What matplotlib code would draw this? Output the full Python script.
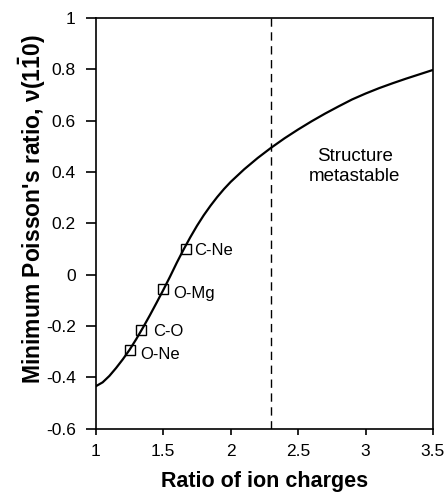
import numpy as np
import matplotlib
matplotlib.use('Agg')
import matplotlib.pyplot as plt

plt.rcParams['font.family'] = ['Liberation Sans', 'DejaVu Sans']
plt.rcParams['mathtext.fontset'] = 'custom'
plt.rcParams['mathtext.rm'] = 'Liberation Sans:bold'
plt.rcParams['mathtext.it'] = 'Liberation Sans:bold'
plt.rcParams['mathtext.bf'] = 'Liberation Sans:bold'

# curve
ratio = [1.00, 1.05, 1.10, 1.15, 1.20, 1.25, 1.30, 1.35, 1.40, 1.45, 1.50,
         1.55, 1.60, 1.65, 1.70, 1.75, 1.80, 1.85, 1.90, 1.95, 2.00, 2.10,
         2.20, 2.30, 2.40, 2.50, 2.60, 2.70, 2.80, 2.90, 3.00, 3.10, 3.20,
         3.30, 3.40, 3.50]
poisson = [-0.435, -0.420, -0.395, -0.364, -0.330, -0.293, -0.251, -0.206,
           -0.159, -0.110, -0.060, -0.008, 0.046, 0.097, 0.145, 0.190,
           0.231, 0.268, 0.302, 0.333, 0.361, 0.410, 0.454, 0.494, 0.531,
           0.565, 0.597, 0.627, 0.655, 0.682, 0.705, 0.726, 0.745, 0.763,
           0.780, 0.797]

# compounds
pairs = ['C-Ne', 'O-Mg', 'C-O', 'O-Ne']
pair_ratio = [1.667, 1.50, 1.333, 1.25]
pair_nu = [0.10, -0.058, -0.215, -0.295]
label_offsets = [(6, -1), (7, -3), (9, -1), (8, -3)]

limit = 2.3

fig = plt.figure(figsize=(4.44, 4.96), dpi=100)
ax = fig.add_axes([0.216, 0.136, 0.759, 0.828])

ax.plot(ratio, poisson, color='black', lw=1.6)
ax.axvline(limit, color='black', lw=1.0, ls=(0, (6, 4)))
ax.plot(pair_ratio, pair_nu, ls='none', marker='s', ms=7, mfc='none',
        mec='black', mew=1.0)
for name, x, y, off in zip(pairs, pair_ratio, pair_nu, label_offsets):
    ax.annotate(name, (x, y), xytext=off, textcoords='offset points',
                ha='left', va='center', fontsize=12)

ax.text(2.92, 0.42, 'Structure\nmetastable', ha='center', va='center',
        fontsize=13.5, linespacing=1.2)

ax.set_xlim(1, 3.5)
ax.set_ylim(-0.6, 1)
ax.set_xticks([1, 1.5, 2, 2.5, 3, 3.5])
ax.set_xticklabels(['1', '1.5', '2', '2.5', '3', '3.5'])
ax.set_yticks(np.arange(-0.6, 1.01, 0.2))
ax.set_yticklabels(['-0.6', '-0.4', '-0.2', '0', '0.2', '0.4', '0.6', '0.8', '1'])
ax.tick_params(axis='x', direction='out', length=4, width=1.2, pad=7,
               labelsize=12.5)
ax.tick_params(axis='y', direction='out', length=7, width=1.2, pad=7.5,
               labelsize=12.5)

for s in ax.spines.values():
    s.set_linewidth(1.2)

ax.set_xlabel('Ratio of ion charges', fontsize=15.5, fontweight='bold')
ax.xaxis.set_label_coords(0.5, -0.104)
ax.set_ylabel(r"Minimum Poisson's ratio, $\nu(1\bar{1}0)$",
              fontsize=16.5, fontweight='bold')
ax.yaxis.set_label_coords(-0.142, 0.535)

fig.savefig('out.png', dpi=100)
